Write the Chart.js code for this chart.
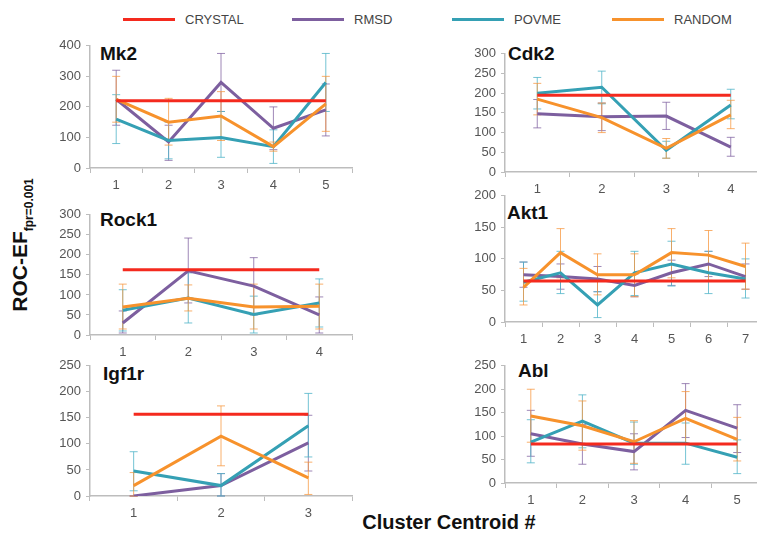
<!DOCTYPE html>
<html>
<head>
<meta charset="utf-8">
<script src="https://cdn.jsdelivr.net/npm/chart.js@4.4.1/dist/chart.umd.min.js"></script>
<style>
  body { margin: 0; width: 757px; height: 534px; overflow: hidden; position: relative; background: #fff; font-family: "Liberation Sans", Arial, sans-serif; }
  canvas { position: absolute; }
  .title { position: absolute; font-weight: bold; font-size: 19px; color: #111; line-height: 20px; }
  .key { position: absolute; top: 12px; font-size: 13px; color: #444; line-height: 16px; }
  .key span { display: inline-block; width: 52px; height: 3px; vertical-align: middle; margin-right: 10px; position: relative; top: -1px; }
  #ytitle { position: absolute; left: 22px; top: 245px; transform: translate(-50%, -50%) rotate(-90deg); white-space: nowrap; font-weight: bold; font-size: 21px; color: #111; }
  #ytitle sub { font-size: 12px; }
  #xtitle { position: absolute; left: 449px; top: 522px; transform: translate(-50%, -50%); white-space: nowrap; font-weight: bold; font-size: 20px; color: #111; }
</style>
</head>
<body>

<div class="key" style="left:123px"><span style="background:#f42a1e"></span>CRYSTAL</div>
<div class="key" style="left:292px"><span style="background:#7d5f9f"></span>RMSD</div>
<div class="key" style="left:452px"><span style="background:#35a0b4"></span>POVME</div>
<div class="key" style="left:612px"><span style="background:#f7922c"></span>RANDOM</div>

<div id="ytitle">ROC-EF<sub>fpr=0.001</sub></div>
<div id="xtitle">Cluster Centroid #</div>

<div class="title" style="left:100px;top:44px">Mk2</div>
<div class="title" style="left:508px;top:44px">Cdk2</div>
<div class="title" style="left:100px;top:210px">Rock1</div>
<div class="title" style="left:507px;top:203px">Akt1</div>
<div class="title" style="left:103px;top:364px">Igf1r</div>
<div class="title" style="left:518px;top:361px">Abl</div>

<canvas id="mk2"></canvas>
<canvas id="cdk2"></canvas>
<canvas id="rock1"></canvas>
<canvas id="akt1"></canvas>
<canvas id="igf1r"></canvas>
<canvas id="abl"></canvas>

<script>
// Mk2
const mk2Labels = ['1', '2', '3', '4', '5'];
const mk2Crystal = [220, 220, 220, 220, 220];
const mk2Rmsd = [225, 85, 280, 130, 190];
const mk2RmsdLo = [140, 25, 185, 60, 105];
const mk2RmsdHi = [320, 140, 375, 200, 275];
const mk2Povme = [160, 90, 100, 70, 280];
const mk2PovmeLo = [80, 30, 35, 15, 185];
const mk2PovmeHi = [240, 150, 185, 125, 375];
const mk2Random = [225, 150, 170, 70, 210];
const mk2RandomLo = [150, 75, 90, 55, 120];
const mk2RandomHi = [300, 228, 250, 85, 300];

// Cdk2
const cdk2Labels = ['1', '2', '3', '4'];
const cdk2Crystal = [195, 195, 195, 195];
const cdk2Rmsd = [148, 140, 142, 63];
const cdk2RmsdLo = [112, 105, 108, 40];
const cdk2RmsdHi = [184, 175, 177, 88];
const cdk2Povme = [200, 215, 55, 170];
const cdk2PovmeLo = [160, 173, 35, 135];
const cdk2PovmeHi = [240, 256, 78, 210];
const cdk2Random = [185, 138, 60, 145];
const cdk2RandomLo = [145, 100, 35, 110];
const cdk2RandomHi = [225, 175, 85, 182];

// Rock1
const rock1Labels = ['1', '2', '3', '4'];
const rock1Crystal = [163, 163, 163, 163];
const rock1Rmsd = [30, 160, 122, 50];
const rock1RmsdLo = [5, 80, 50, 5];
const rock1RmsdHi = [60, 242, 193, 95];
const rock1Povme = [62, 92, 51, 80];
const rock1PovmeLo = [10, 30, 5, 20];
const rock1PovmeHi = [113, 155, 97, 140];
const rock1Random = [70, 92, 70, 72];
const rock1RandomLo = [15, 60, 15, 15];
const rock1RandomHi = [127, 125, 127, 127];

// Akt1
const akt1Labels = ['1', '2', '3', '4', '5', '6', '7'];
const akt1Crystal = [65, 65, 65, 65, 65, 65, 65];
const akt1Rmsd = [75, 72, 68, 58, 78, 92, 72];
const akt1RmsdLo = [55, 52, 48, 40, 58, 72, 52];
const akt1RmsdHi = [95, 92, 88, 76, 98, 112, 92];
const akt1Povme = [63, 78, 27, 78, 92, 78, 68];
const akt1PovmeLo = [33, 45, 7, 42, 57, 45, 38];
const akt1PovmeHi = [95, 112, 48, 112, 128, 112, 100];
const akt1Random = [55, 110, 75, 75, 110, 106, 88];
const akt1RandomLo = [27, 70, 43, 40, 70, 66, 52];
const akt1RandomHi = [85, 148, 108, 108, 148, 145, 125];

// Igf1r
const igf1rLabels = ['1', '2', '3'];
const igf1rCrystal = [157, 157, 157];
const igf1rRmsd = [0, 20, 102];
const igf1rRmsdLo = [0, 0, 48];
const igf1rRmsdHi = [0, 43, 155];
const igf1rPovme = [48, 20, 135];
const igf1rPovmeLo = [10, 0, 75];
const igf1rPovmeHi = [85, 43, 197];
const igf1rRandom = [20, 115, 35];
const igf1rRandomLo = [0, 58, 3];
const igf1rRandomHi = [45, 173, 65];

// Abl
const ablLabels = ['1', '2', '3', '4', '5'];
const ablCrystal = [83, 83, 83, 83, 83];
const ablRmsd = [105, 83, 67, 155, 117];
const ablRmsdLo = [57, 40, 28, 97, 65];
const ablRmsdHi = [155, 125, 105, 212, 167];
const ablPovme = [87, 132, 85, 85, 55];
const ablPovmeLo = [43, 75, 40, 40, 20];
const ablPovmeHi = [135, 188, 130, 128, 92];
const ablRandom = [143, 122, 88, 138, 93];
const ablRandomLo = [87, 70, 42, 82, 47];
const ablRandomHi = [200, 175, 133, 195, 140];

const red = '#f42a1e';
const purple = '#7d5f9f';
const teal = '#35a0b4';
const orange = '#f7922c';

// vertical whiskers with caps, drawn under the lines
const errorBars = {
    id: 'errorBars',
    beforeDatasetsDraw(chart) {
        let ctx = chart.ctx;
        let xs = chart.scales.x;
        let ys = chart.scales.y;
        chart.data.datasets.forEach(ds => {
            if (!ds.errLo) return;
            ctx.save();
            ctx.strokeStyle = ds.errColor;
            ctx.lineWidth = 1;
            ds.errLo.forEach((lo, i) => {
                let px = xs.getPixelForValue(i);
                let y0 = ys.getPixelForValue(lo);
                let y1 = ys.getPixelForValue(ds.errHi[i]);
                ctx.beginPath();
                ctx.moveTo(px, y0);
                ctx.lineTo(px, y1);
                ctx.moveTo(px - 4, y0);
                ctx.lineTo(px + 4, y0);
                ctx.moveTo(px - 4, y1);
                ctx.lineTo(px + 4, y1);
                ctx.stroke();
            });
            ctx.restore();
        });
    }
};

function serie(label, data, color, lo, hi, errColor, order) {
    return {
        label: label,
        data: data,
        borderColor: color,
        backgroundColor: color,
        borderWidth: 3,
        pointRadius: 0,
        tension: 0,
        order: order,
        errLo: lo,
        errHi: hi,
        errColor: errColor
    };
}

// area = [left, right, top, bottom] of the plot in page pixels
function panel(id, area, labels, yMax, step, crystal, rmsd, povme, random) {
    const axisW = 50, padTop = 12, axisH = 26;
    let cv = document.getElementById(id);
    cv.style.left = (area[0] - axisW) + 'px';
    cv.style.top = (area[2] - padTop) + 'px';
    cv.width = area[1] - area[0] + axisW + 4;
    cv.height = area[3] - area[2] + padTop + axisH;

    new Chart(cv, {
        type: 'line',
        data: {
            labels: labels,
            datasets: [
                serie('CRYSTAL', crystal, red, null, null, null, 0),
                serie('RMSD', rmsd[0], purple, rmsd[1], rmsd[2], 'rgba(125,95,159,0.75)', 3),
                serie('POVME', povme[0], teal, povme[1], povme[2], 'rgba(80,180,200,0.8)', 2),
                serie('RANDOM', random[0], orange, random[1], random[2], 'rgba(247,150,60,0.75)', 1)
            ]
        },
        options: {
            responsive: false,
            animation: false,
            layout: { padding: { top: padTop, right: 4, left: 0, bottom: 0 } },
            plugins: { legend: { display: false }, tooltip: { enabled: false } },
            scales: {
                x: {
                    offset: true,
                    border: { color: '#bdbdbd', width: 1.5 },
                    grid: { offset: true, drawOnChartArea: false, color: '#bdbdbd', tickLength: 5 },
                    ticks: { color: '#555', padding: 5, font: { family: 'Liberation Sans', size: 13 } },
                    afterFit: s => { s.height = axisH; }
                },
                y: {
                    min: 0,
                    max: yMax,
                    border: { color: '#bdbdbd', width: 1.5 },
                    grid: { drawOnChartArea: false, color: '#bdbdbd', tickLength: 4 },
                    ticks: { stepSize: step, color: '#555', padding: 5, font: { family: 'Liberation Sans', size: 13 } },
                    afterFit: s => { s.width = axisW; }
                }
            }
        },
        plugins: [errorBars]
    });
}

panel('mk2', [90, 352, 45, 168], mk2Labels, 400, 100, mk2Crystal,
    [mk2Rmsd, mk2RmsdLo, mk2RmsdHi], [mk2Povme, mk2PovmeLo, mk2PovmeHi], [mk2Random, mk2RandomLo, mk2RandomHi]);
panel('rock1', [90, 352, 214, 335], rock1Labels, 300, 50, rock1Crystal,
    [rock1Rmsd, rock1RmsdLo, rock1RmsdHi], [rock1Povme, rock1PovmeLo, rock1PovmeHi], [rock1Random, rock1RandomLo, rock1RandomHi]);
panel('igf1r', [90, 352, 365, 496], igf1rLabels, 250, 50, igf1rCrystal,
    [igf1rRmsd, igf1rRmsdLo, igf1rRmsdHi], [igf1rPovme, igf1rPovmeLo, igf1rPovmeHi], [igf1rRandom, igf1rRandomLo, igf1rRandomHi]);
panel('cdk2', [505, 763, 53, 172], cdk2Labels, 300, 50, cdk2Crystal,
    [cdk2Rmsd, cdk2RmsdLo, cdk2RmsdHi], [cdk2Povme, cdk2PovmeLo, cdk2PovmeHi], [cdk2Random, cdk2RandomLo, cdk2RandomHi]);
panel('akt1', [505, 764, 195, 322], akt1Labels, 200, 50, akt1Crystal,
    [akt1Rmsd, akt1RmsdLo, akt1RmsdHi], [akt1Povme, akt1PovmeLo, akt1PovmeHi], [akt1Random, akt1RandomLo, akt1RandomHi]);
panel('abl', [505, 763, 365, 483], ablLabels, 250, 50, ablCrystal,
    [ablRmsd, ablRmsdLo, ablRmsdHi], [ablPovme, ablPovmeLo, ablPovmeHi], [ablRandom, ablRandomLo, ablRandomHi]);
</script>
</body>
</html>
